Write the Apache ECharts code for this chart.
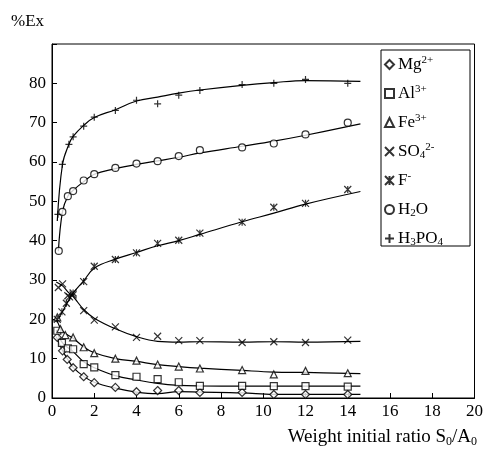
<html>
<head>
  <meta charset="utf-8">
  <title>extraction</title>
  <script type="text/javascript" src="https://cdn.jsdelivr.net/npm/echarts@6/dist/echarts.min.js"></script>
</head>
<body style="margin:0">
<div id="chartmain" style="width:486px; height:450px;"></div>
<script type="text/javascript">
  // measured points [ratio, %Ex]
  let mgPts = [[0.25,15.4],[0.5,12],[0.72,9.8],[1,7.7],[1.5,5.4],[2,3.9],[3,2.7],[4,1.6],[5,1.9],[6,1.9],[7,1.4],[9,1.4],[10.5,0.9],[12,0.9],[14,0.9]];
  let alPts = [[0.25,17.1],[0.47,14],[0.75,12.6],[1,12.4],[1.5,8.6],[2,7.8],[3,5.8],[4,5.4],[5,4.8],[6,4],[7,3.1],[9,3.1],[10.5,3],[12,3],[14,2.9]];
  let fePts = [[0.25,20.5],[0.4,17.5],[0.63,16],[1,15.4],[1.5,12.9],[2,11.4],[3,10],[4,9.5],[5,8.5],[6,8],[7,7.5],[9,7.1],[10.5,6],[12,6.9],[14,6.3]];
  let so4Pts = [[0.3,28.1],[0.5,29],[0.75,26],[1,26.2],[1.5,22.2],[2,19.8],[3,18.1],[4,15.4],[5,15.7],[6,14.6],[7,14.6],[9,14.1],[10.5,14.3],[12,14.1],[14,14.7]];
  let fPts = [[0.25,20],[0.47,21.9],[0.68,24.1],[0.83,25.7],[1,26.7],[1.5,29.6],[2,33.5],[3,35.2],[4,36.9],[5,39.3],[6,40.1],[7,41.9],[9,44.7],[10.5,48.5],[12,49.5],[14,53]];
  let h2oPts = [[0.32,37.4],[0.49,47.3],[0.75,51.3],[1,52.6],[1.5,55.3],[2,56.9],[3,58.5],[4,59.6],[5,60.2],[6,61.5],[7,63],[9,63.7],[10.5,64.7],[12,67],[14,70]];
  let h3po4Pts = [[0.28,46.7],[0.49,59.4],[0.8,64.5],[1,66.4],[1.5,69.1],[2,71.4],[3,73.1],[4,75.7],[5,74.8],[6,77],[7,78.2],[9,79.7],[10.5,80],[12,81],[14,80]];

  // fitted curves
  let mgFit = [[0.2,15.6],[0.5,12],[0.75,9.8],[1,7.8],[1.5,5.5],[2,4],[3,2.5],[4,1.5],[5,1.1],[6,1.6],[7,1.5],[9,1.3],[10.5,0.9],[12,0.9],[14.6,0.9]];
  let alFit = [[0.2,17.3],[0.5,14],[1,11.8],[1.5,9.2],[2,7.7],[3,5.7],[4,4.6],[5,3.7],[6,3.2],[7,3.05],[9,3],[10.5,3],[12,3],[14.6,3]];
  let feFit = [[0.2,20.3],[0.5,17],[1,15.2],[1.5,13],[2,11.5],[3,10],[4,9.3],[5,8.5],[6,8],[7,7.6],[9,7],[10.5,6.6],[12,6.5],[14.6,6.2]];
  let so4Fit = [[0.2,29.5],[0.5,28.5],[0.75,27],[1,25.8],[1.5,22.5],[2,20.3],[3,17.6],[4,15.6],[5,14.4],[6,14.2],[7,14.3],[9,14.2],[10.5,14.3],[12,14.2],[14.6,14.4]];
  let fFit = [[0.2,19.5],[0.5,22],[0.75,24.5],[1,26.7],[1.5,29.8],[2,33],[3,35.3],[4,37],[5,38.7],[6,40],[7,41.6],[9,44.8],[10.5,47],[12,49.3],[14.6,52.5]];
  let h2oFit = [[0.3,37.3],[0.5,47.5],[0.75,51.3],[1,52.8],[1.5,55],[2,56.9],[3,58.3],[4,59.4],[5,60.3],[6,61.2],[7,62.3],[9,64],[10.5,65.3],[12,66.8],[14.6,69.7]];
  let h3po4Fit = [[0.25,45],[0.5,59.5],[0.8,64.5],[1,66.5],[1.5,69.3],[2,71.3],[3,73.3],[4,75.5],[5,76.5],[6,77.5],[7,78.3],[9,79.5],[10.5,80.2],[12,80.7],[14.6,80.5]];

  let names = ['Mg', 'Al', 'Fe', 'SO4', 'F', 'H2O', 'H3PO4'];
  let labels = {
    'Mg': '{n|Mg}{sup|2+}',
    'Al': '{n|Al}{sup|3+}',
    'Fe': '{n|Fe}{sup|3+}',
    'SO4': '{n|SO}{sub|4}{sup|2-}',
    'F': '{n|F}{sup|-}',
    'H2O': '{n|H}{sub|2}{n|O}',
    'H3PO4': '{n|H}{sub|3}{n|PO}{sub|4}'
  };
  let symbols = [
    'diamond', 'rect', 'triangle',
    'path://M0,0L10,10M10,0L0,10',
    'path://M0,0L10,10M10,0L0,10M5,0L5,10',
    'circle',
    'path://M5,0L5,10M0,5L10,5'
  ];
  let pts = [mgPts, alPts, fePts, so4Pts, fPts, h2oPts, h3po4Pts];
  let fits = [mgFit, alFit, feFit, so4Fit, fFit, h2oFit, h3po4Fit];

  let font = '"Liberation Serif", "Times New Roman", serif';
  let rich = {
    n: {fontFamily: font, fontSize: 17, fontWeight: 'normal', color: '#000', lineHeight: 20},
    sup: {fontFamily: font, fontSize: 11, fontWeight: 'normal', color: '#000', padding: [0, 0, 8, 0], lineHeight: 20},
    sub: {fontFamily: font, fontSize: 11, fontWeight: 'normal', color: '#000', padding: [8, 0, 0, 0], lineHeight: 20}
  };
  let richBig = {
    n: {fontFamily: font, fontSize: 19, fontWeight: 'normal', color: '#000', lineHeight: 22},
    sub: {fontFamily: font, fontSize: 12, fontWeight: 'normal', color: '#000', padding: [9, 0, 0, 0], lineHeight: 22}
  };

  let series = [];
  for (let i = 0; i < names.length; i++) {
    series.push({
      name: names[i] + '_fit',
      type: 'line',
      smooth: 0.4,
      showSymbol: false,
      silent: true,
      lineStyle: {color: '#000', width: 1.2},
      data: fits[i],
      z: 2
    });
  }
  for (let i = 0; i < names.length; i++) {
    series.push({
      name: names[i],
      type: 'scatter',
      symbol: symbols[i],
      symbolSize: i == 0 ? 8 : 7,
      itemStyle: {color: '#fff', borderColor: '#000', borderWidth: 1.2},
      data: pts[i],
      z: 3
    });
  }

  let option = {
    animation: false,
    backgroundColor: '#fff',
    title: [{
      text: '%Ex',
      left: 11,
      top: 13,
      padding: 0,
      textStyle: {fontFamily: font, fontSize: 17, fontWeight: 'normal', color: '#000'}
    }, {
      text: '{n|Weight initial ratio S}{sub|0}{n|/A}{sub|0}',
      right: 9,
      top: 426,
      padding: 0,
      textStyle: {rich: richBig}
    }],
    grid: {
      left: 52, right: 10, top: 44, bottom: 52,
      show: true, borderColor: '#000', borderWidth: 1
    },
    graphic: [{
      type: 'rect',
      shape: {x: 381, y: 50, width: 89, height: 196},
      style: {fill: '#fff', stroke: '#000', lineWidth: 1},
      z: 10
    }],
    legend: {
      data: names,
      orient: 'vertical',
      left: 384,
      top: 55,
      padding: 0,
      itemWidth: 9,
      itemHeight: 9,
      itemGap: 10,
      z: 11,
      formatter: function (name) { return labels[name]; },
      textStyle: {rich: rich, padding: [0, 0, 0, -1]}
    },
    xAxis: {
      type: 'value',
      min: 0, max: 20, interval: 2,
      axisLine: {lineStyle: {color: '#000', width: 1}},
      axisTick: {inside: true, length: 5, lineStyle: {color: '#000'}},
      axisLabel: {color: '#000', fontFamily: font, fontSize: 17, margin: 5},
      splitLine: {show: false}
    },
    yAxis: {
      type: 'value',
      min: 0, max: 90, interval: 10,
      axisLine: {show: true, lineStyle: {color: '#000', width: 1}},
      axisTick: {show: true, inside: true, length: 5, lineStyle: {color: '#000'}},
      axisLabel: {
        color: '#000', fontFamily: font, fontSize: 17, margin: 6,
        formatter: function (v) { return v >= 90 ? '' : v; }
      },
      splitLine: {show: false}
    },
    series: series
  };

  let myChart = echarts.init(document.getElementById('chartmain'));
  myChart.setOption(option);
</script>
</body>
</html>
